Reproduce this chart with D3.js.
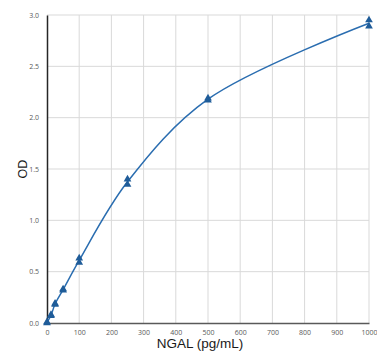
<!DOCTYPE html>
<html><head><meta charset="utf-8">
<script src="https://cdn.jsdelivr.net/npm/d3@7"></script>
<style>body{margin:0;background:#fff}svg{display:block}</style>
</head><body>
<svg id="c" width="377" height="353"></svg>
<script>
const concentrations = [0, 12.5, 25, 50, 100, 250, 500, 1000];
const odRep1 = [0.00, 0.07, 0.18, 0.32, 0.59, 1.35, 2.17, 2.89];
const odRep2 = [0.01, 0.08, 0.19, 0.33, 0.63, 1.40, 2.19, 2.95];
const xTicks = [0, 100, 200, 300, 400, 500, 600, 700, 800, 900, 1000];
const yTicks = [0.0, 0.5, 1.0, 1.5, 2.0, 2.5, 3.0];

const svg = d3.select('#c');
const m = {l: 47, r: 8, t: 15, b: 30};
const W = 377, H = 353;
const x = d3.scaleLinear().domain([0, 1000]).range([m.l, W - m.r]);
const y = d3.scaleLinear().domain([0, 3]).range([H - m.b, m.t]);

// grid
svg.append('g').selectAll('line').data(xTicks.slice(1)).join('line')
  .attr('x1', d => x(d)).attr('x2', d => x(d)).attr('y1', y(0)).attr('y2', y(3))
  .attr('stroke', '#d9d9d9').attr('stroke-width', 1);
svg.append('g').selectAll('line').data(yTicks.slice(1)).join('line')
  .attr('x1', x(0)).attr('x2', x(1000)).attr('y1', d => y(d)).attr('y2', d => y(d))
  .attr('stroke', '#d9d9d9').attr('stroke-width', 1);

// axes
const xAxis = d3.axisBottom(x).tickValues(xTicks).tickFormat(d3.format('d')).tickSize(0).tickPadding(7);
const gx = svg.append('g').attr('transform', `translate(0,${y(0)})`).call(xAxis);
gx.select('.domain').attr('stroke', '#595959').attr('stroke-width', 1.3);
gx.selectAll('text').attr('fill', '#595959').style('font', '7px "Open Sans", sans-serif');

const yAxis = d3.axisLeft(y).tickValues(yTicks).tickFormat(d3.format('.1f')).tickSize(0).tickPadding(8);
const gy = svg.append('g').attr('transform', `translate(${x(0)},0)`).call(yAxis);
gy.select('.domain').attr('stroke', '#262626').attr('stroke-width', 1.5);
gy.selectAll('text').attr('fill', '#595959').style('font', '7px "Open Sans", sans-serif');

// labels
svg.append('text').attr('x', 200).attr('y', 348).attr('text-anchor', 'middle')
  .attr('fill', '#1a1a1a').style('font', '13.5px "Liberation Sans", Arial, sans-serif').text('NGAL (pg/mL)');
svg.append('text').attr('transform', `translate(27,${(y(0)+y(3))/2}) rotate(-90)`).attr('text-anchor', 'middle')
  .attr('fill', '#1a1a1a').style('font', '12.5px "Liberation Sans", Arial, sans-serif').text('OD');

// curve through replicate means
const means = concentrations.map((c, i) => [c, (odRep1[i] + odRep2[i]) / 2]);
const line = d3.line().x(d => x(d[0])).y(d => y(d[1])).curve(d3.curveCatmullRom.alpha(0.5));
svg.append('path').datum(means).attr('d', line).attr('fill', 'none')
  .attr('stroke', '#2a6db0').attr('stroke-width', 1.5);

// points
const pts = [];
concentrations.forEach((c, i) => { pts.push([c, odRep1[i]]); pts.push([c, odRep2[i]]); });
const tri = d3.symbol().type(d3.symbolTriangle).size(26);
svg.append('g').selectAll('path').data(pts).join('path')
  .attr('d', tri).attr('transform', d => `translate(${x(d[0])},${y(d[1])})`)
  .attr('fill', '#1f5c99');
</script>
</body></html>
